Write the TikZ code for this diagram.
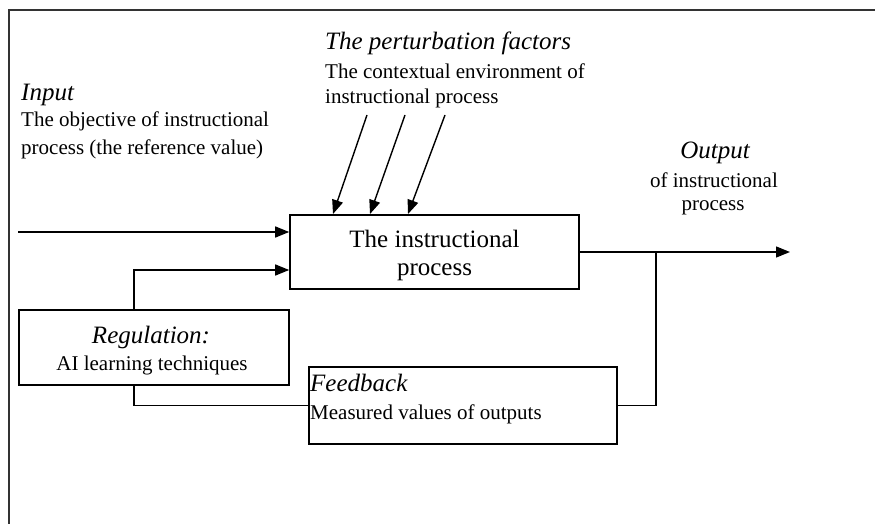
\documentclass[tikz,border=0pt]{standalone}
\usepackage{fontspec}
\setmainfont{Liberation Serif}
\usetikzlibrary{arrows.meta}
\newcommand\headtext{\fontsize{25}{28}\selectfont\itshape}
\newcommand\bodytext{\fontsize{21}{26}\selectfont}
\newcommand\boxtext{\fontsize{25}{28}\selectfont}
\tikzset{
  blockbox/.style={draw=black, line width=1.6pt, minimum width=#1, inner sep=0pt},
  wire/.style={line width=1.4pt, black},
  arr/.style={wire, -{Triangle[length=14pt,width=11pt]}},
  lbl/.style={inner sep=0pt, anchor=base west},
  clbl/.style={inner sep=0pt, anchor=base},
}
\begin{document}
\begin{tikzpicture}[x=1pt,y=-1pt]
\useasboundingbox (0,0) rectangle (875,524);
% page frame (top and left edges)
\draw[line width=1.6pt, black!80] (9,524) -- (9,10) -- (875,10);

% blocks
\node[blockbox=289pt, minimum height=74pt] (main) at (434.5,252) {};
\node[blockbox=270pt, minimum height=75pt] (reg) at (154,347.5) {};
\node[blockbox=308pt, minimum height=77pt] (fb) at (463,405.5) {};

% texts
\node[lbl] (inhead) at (21,101) {\headtext Input};
\node[lbl] (in1) at (21,127) {\bodytext The objective of instructional};
\node[lbl] (in2) at (21,154) {\bodytext process (the reference value)};

\node[lbl] (pthead) at (325,50) {\headtext The perturbation factors};
\node[lbl] (pt1) at (325,79) {\bodytext The contextual environment of};
\node[lbl] (pt2) at (325,104) {\bodytext instructional process};

\node[clbl] (outhead) at (715,158) {\headtext Output};
\node[clbl] (out1) at (714,187) {\bodytext of instructional};
\node[clbl] (out2) at (713,210) {\bodytext process};

\node[clbl] (main1) at (434.5,247) {\boxtext The instructional};
\node[clbl] (main2) at (434.5,275) {\boxtext process};

\node[clbl] (reghead) at (151,343) {\headtext Regulation:};
\node[clbl] (reg1) at (152,370) {\bodytext AI learning techniques};

\node[lbl] (fbhead) at (310,391) {\headtext Feedback};
\node[lbl] (fb1) at (310,419) {\bodytext Measured values of outputs};

% free ends of connectors
\coordinate (inStart) at (18,232);
\coordinate (outEnd) at (790,252);
\coordinate (tap) at (656,252);
\coordinate (p1s) at (367,115);
\coordinate (p2s) at (405,115);
\coordinate (p3s) at (445,115);
\coordinate (p1e) at (333,214);
\coordinate (p2e) at (370,214);
\coordinate (p3e) at (408,214);

% connectors
\draw[arr] (inStart) -- (inStart -| main.west);
\draw[arr] ([xshift=-20pt]reg.north) |- ([yshift=-18pt]main.west);
\draw[wire] ([xshift=-20pt]reg.south) |- (fb.west);
\draw[arr] (main.east) -- (outEnd);
\draw[wire] (fb.east) -| (tap);
\draw[arr] (p1s) -- (p1e);
\draw[arr] (p2s) -- (p2e);
\draw[arr] (p3s) -- (p3e);
\end{tikzpicture}
\end{document}
